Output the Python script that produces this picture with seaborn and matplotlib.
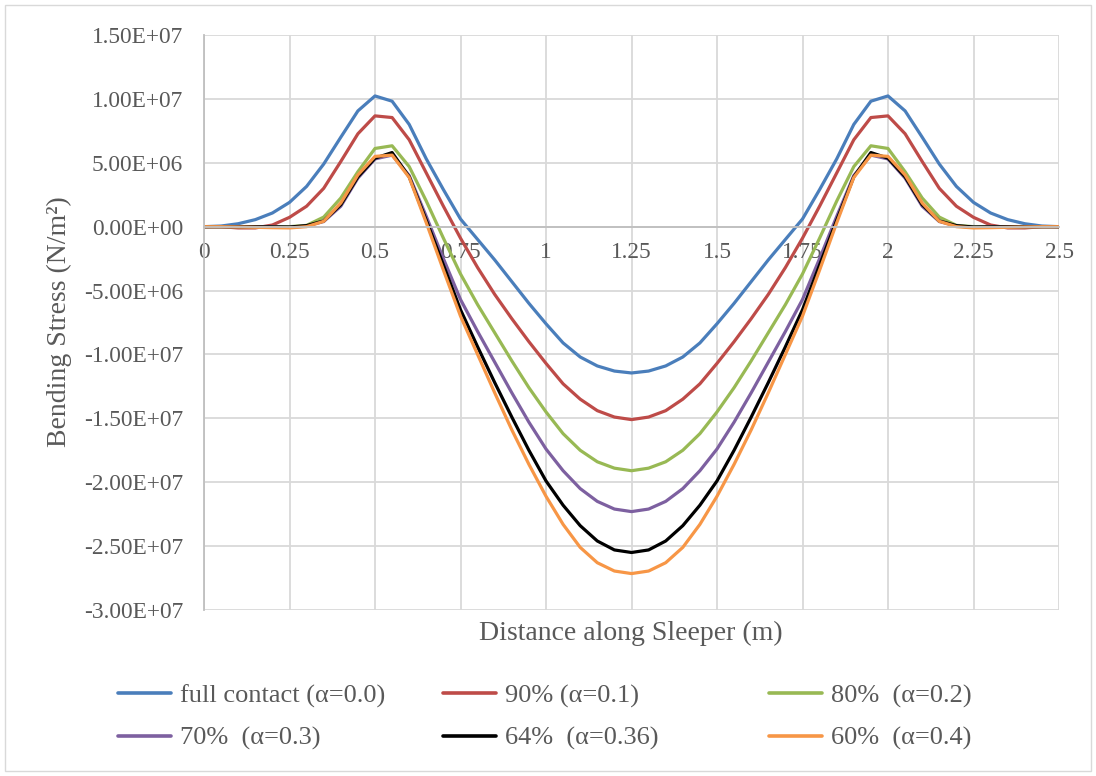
import numpy as np
import pandas as pd
import matplotlib
matplotlib.use("Agg")
import matplotlib.pyplot as plt
from matplotlib.lines import Line2D
from matplotlib.patches import Rectangle
from matplotlib.ticker import FuncFormatter, MultipleLocator
import seaborn as sns

# Positions along the sleeper (m)
distance = [0.00, 0.05, 0.10, 0.15, 0.20, 0.25, 0.30, 0.35, 0.40, 0.45, 0.50,
            0.55, 0.60, 0.65, 0.70, 0.75, 0.80, 0.85, 0.90, 0.95, 1.00, 1.05,
            1.10, 1.15, 1.20, 1.25, 1.30, 1.35, 1.40, 1.45, 1.50, 1.55, 1.60,
            1.65, 1.70, 1.75, 1.80, 1.85, 1.90, 1.95, 2.00, 2.05, 2.10, 2.15,
            2.20, 2.25, 2.30, 2.35, 2.40, 2.45, 2.50]

# Bending stress, in units of 1E+06 N/m^2
full_contact = [0, 0.05, 0.23, 0.55, 1.07, 1.9, 3.15, 4.9, 7.0, 9.06, 10.23,
                9.82, 8.0, 5.3, 2.9, 0.6, -1.0, -2.6, -4.3, -6.0, -7.6, -9.1,
                -10.2, -10.9, -11.3, -11.45,
                -11.3, -10.9, -10.2, -9.1, -7.6, -6.0, -4.3, -2.6, -1.0, 0.6,
                2.9, 5.3, 8.0, 9.82, 10.23, 9.06, 7.0, 4.9, 3.15, 1.9, 1.07,
                0.55, 0.23, 0.05, 0]
contact_90 = [0, 0.0, -0.1, -0.1, 0.13, 0.73, 1.6, 3.0, 5.1, 7.27, 8.67,
              8.54, 6.8, 4.2, 1.6, -0.9, -3.2, -5.3, -7.2, -9.0, -10.7, -12.3,
              -13.5, -14.4, -14.9, -15.1,
              -14.9, -14.4, -13.5, -12.3, -10.7, -9.0, -7.2, -5.3, -3.2, -0.9,
              1.6, 4.2, 6.8, 8.54, 8.67, 7.27, 5.1, 3.0, 1.6, 0.73, 0.13,
              -0.1, -0.1, 0.0, 0]
contact_80 = [0, 0, 0, 0, 0, 0.0, 0.1, 0.75, 2.24, 4.3, 6.12,
              6.33, 4.7, 2.0, -0.9, -3.7, -6.1, -8.3, -10.5, -12.6, -14.5,
              -16.2, -17.5, -18.4, -18.9, -19.1,
              -18.9, -18.4, -17.5, -16.2, -14.5, -12.6, -10.5, -8.3, -6.1,
              -3.7, -0.9, 2.0, 4.7, 6.33, 6.12, 4.3, 2.24, 0.75, 0.1, 0.0,
              0, 0, 0, 0, 0]
contact_70 = [0, 0, 0, 0, -0.03, -0.05, 0.05, 0.4, 1.6, 3.8, 5.3,
              5.6, 4.0, 0.8, -2.5, -5.7, -8.2, -10.6, -13.0, -15.3, -17.4,
              -19.1, -20.5, -21.5, -22.1, -22.3,
              -22.1, -21.5, -20.5, -19.1, -17.4, -15.3, -13.0, -10.6, -8.2,
              -5.7, -2.5, 0.8, 4.0, 5.6, 5.3, 3.8, 1.6, 0.4, 0.05, -0.05,
              -0.03, 0, 0, 0, 0]
contact_64 = [0, 0, 0, 0, -0.02, -0.03, 0.08, 0.45, 1.72, 3.9, 5.36,
              5.8, 3.9, 0.5, -3.0, -6.5, -9.4, -12.2, -14.9, -17.5, -19.9,
              -21.8, -23.4, -24.6, -25.3, -25.5,
              -25.3, -24.6, -23.4, -21.8, -19.9, -17.5, -14.9, -12.2, -9.4,
              -6.5, -3.0, 0.5, 3.9, 5.8, 5.36, 3.9, 1.72, 0.45, 0.08, -0.03,
              -0.02, 0, 0, 0, 0]
contact_60 = [0, 0, -0.02, -0.05, -0.08, -0.1, 0.0, 0.42, 1.85, 4.05, 5.5,
              5.6, 3.85, 0.3, -3.4, -7.0, -10.0, -13.0, -15.9, -18.6, -21.1,
              -23.3, -25.1, -26.3, -26.95, -27.15,
              -26.95, -26.3, -25.1, -23.3, -21.1, -18.6, -15.9, -13.0, -10.0,
              -7.0, -3.4, 0.3, 3.85, 5.6, 5.5, 4.05, 1.85, 0.42, 0.0, -0.1,
              -0.08, -0.05, -0.02, 0, 0]

series_labels = ["full contact (α=0.0)", "90% (α=0.1)", "80%  (α=0.2)",
                 "70%  (α=0.3)", "64%  (α=0.36)", "60%  (α=0.4)"]
series_values = [full_contact, contact_90, contact_80,
                 contact_70, contact_64, contact_60]
series_colors = ["#4A7EBB", "#BE4B48", "#98B954", "#7D60A0", "#000000", "#F79646"]

x_ticks = [0, 0.25, 0.5, 0.75, 1, 1.25, 1.5, 1.75, 2, 2.25, 2.5]
y_ticks = [1.5e7, 1.0e7, 5.0e6, 0.0, -5.0e6, -1.0e7, -1.5e7, -2.0e7, -2.5e7, -3.0e7]

frames = []
for lab, vals in zip(series_labels, series_values):
    frames.append(pd.DataFrame({"distance": distance,
                                "stress": np.array(vals) * 1e6,
                                "case": lab}))
data = pd.concat(frames, ignore_index=True)

sns.set_theme(style="whitegrid")
plt.rcParams["font.family"] = ["Liberation Serif", "DejaVu Serif"]
plt.rcParams["axes.unicode_minus"] = False

W, H = 1096, 776
fig = plt.figure(figsize=(W / 100, H / 100), dpi=100)
fig.patch.set_facecolor("white")
L, R, T, B = 204, 1059, 35, 610
ax = fig.add_axes([L / W, 1 - B / H, (R - L) / W, (B - T) / H])
ax.set_facecolor("white")

sns.lineplot(data=data, x="distance", y="stress", hue="case",
             hue_order=series_labels, palette=series_colors,
             linewidth=2.3, legend=False, ax=ax, sort=False)

ax.set_xlim(0, 2.5)
ax.set_ylim(-3.0e7, 1.5e7)
ax.set_xticks(x_ticks)
ax.set_yticks(y_ticks)
ax.xaxis.set_major_formatter(FuncFormatter(lambda v, p: f"{v:g}"))
ax.yaxis.set_major_formatter(FuncFormatter(lambda v, p: f"{v:.2E}"))

text_col = "#595959"
ax.grid(True, color="#D9D9D9", linewidth=1.3)
for side in ["top", "right"]:
    ax.spines[side].set_visible(False)
ax.spines["left"].set_color("#BFBFBF")
ax.spines["left"].set_linewidth(1.3)
ax.spines["bottom"].set_position(("data", 0))
ax.spines["bottom"].set_color("#BFBFBF")
ax.spines["bottom"].set_linewidth(1.3)
ax.tick_params(axis="x", length=0, pad=11, labelsize=16.8, labelcolor=text_col)
ax.tick_params(axis="y", length=0, pad=15, labelsize=16.8, labelcolor=text_col)
ax.set_xlabel("")
ax.set_ylabel("")

fig.text(631 / W, 1 - 640 / H, "Distance along Sleeper (m)", ha="center",
         va="baseline", fontsize=20, color=text_col)
fig.text(59 / W, 1 - 322 / H, "Bending Stress (N/m²)", ha="center",
         va="center", rotation=90, fontsize=20, color=text_col)

# Legend: three columns of two entries each, below the plot
handles = [Line2D([], [], color=c, linewidth=2.6) for c in series_colors]
col_x = [118, 443, 769]
for j, cx in enumerate(col_x):
    idx = [j, j + 3]
    leg = fig.legend([handles[i] for i in idx], [series_labels[i] for i in idx],
                     loc="center left", bbox_to_anchor=(cx / W, 1 - 717 / H),
                     frameon=False, fontsize=19, handlelength=2.0,
                     handletextpad=0.35, labelspacing=0.72, borderpad=0,
                     borderaxespad=0, labelcolor=text_col)

fig.patches.append(Rectangle((5 / W, 5 / H), (W - 10) / W, (H - 10) / H,
                             transform=fig.transFigure, fill=False,
                             edgecolor="#D9D9D9", linewidth=1.0))

fig.savefig("out.png", dpi=100)
